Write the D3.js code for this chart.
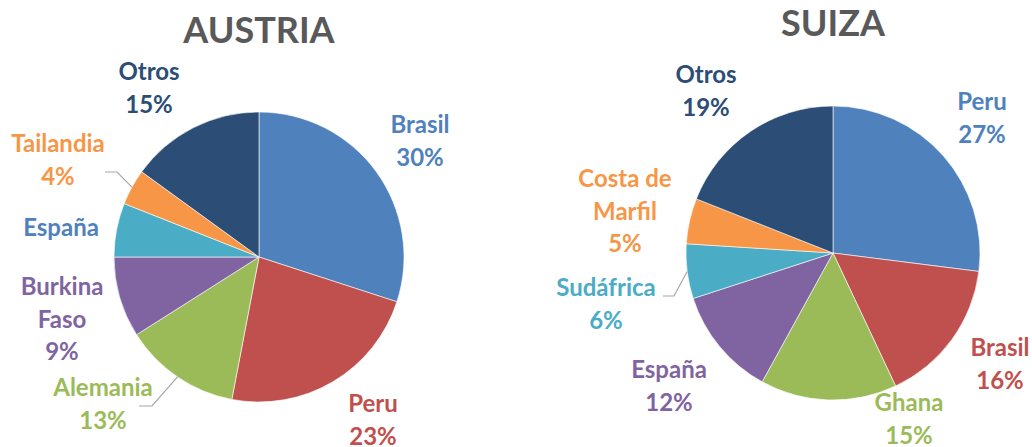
<!DOCTYPE html>
<html>
<head>
<meta charset="utf-8">
<script src="https://cdn.jsdelivr.net/npm/d3@7"></script>
<style>
  body { margin: 0; background: #fff; }
  svg text { font-family: Lato, "Open Sans", sans-serif; font-weight: bold; }
</style>
</head>
<body>
<svg id="chart" width="1032" height="447"></svg>
<script>
// data
var austriaNames = ["Brasil", "Peru", "Alemania", "Burkina Faso", "España", "Tailandia", "Otros"];
var austriaValues = [30, 23, 13, 9, 6, 4, 15];
var suizaNames = ["Peru", "Brasil", "Ghana", "España", "Sudáfrica", "Costa de Marfil", "Otros"];
var suizaValues = [27, 16, 15, 12, 6, 5, 19];
var sliceColors = ["#4F81BD", "#C0504D", "#9BBB59", "#8064A2", "#4BACC6", "#F79646", "#2C4D75"];

// label layout (relative to pie centre)
var austriaLabelPos = [[161, -124], [114, 155], [-156, 139], [-197, 38], [-198, -21], [-201, -105], [-110, -177]];
var austriaLabelLines = [["Brasil"], ["Peru"], ["Alemania"], ["Burkina", "Faso"], ["España"], ["Tailandia"], ["Otros"]];
var austriaShowPct = [true, true, true, true, false, true, true];
var austriaLabelColors = ["#4F81BD", "#C0504D", "#9BBB59", "#8064A2", "#4F81BD", "#F79646", "#2C4D75"];
var austriaLeaders = {2: [[-120, 149], [-107, 149]], 5: [[-154, -85], [-142, -85]]};

var suizaLabelPos = [[149, -143], [167, 103], [76, 158], [-164, 125], [-227, 43], [-208, -66], [-127, -170]];
var suizaLabelLines = [["Peru"], ["Brasil"], ["Ghana"], ["España"], ["Sudáfrica"], ["Costa de", "Marfil"], ["Otros"]];
var suizaShowPct = [true, true, true, true, true, true, true];
var suizaLeaders = {4: [[-170, 43], [-159, 43]]};

var svg = d3.select("#chart");
var lineGap = 32.5;

function drawPie(cfg) {
    var g = svg.append("g").attr("transform", "translate(" + cfg.cx + "," + cfg.cy + ")");
    var data = cfg.values.map(function (v, i) { return { name: cfg.names[i], value: v, i: i }; });
    var pie = d3.pie().sort(null).value(function (d) { return d.value; });
    var arc = d3.arc().innerRadius(0).outerRadius(cfg.r);
    var arcs = pie(data);

    g.selectAll("path.slice").data(arcs).enter().append("path")
        .attr("class", "slice")
        .attr("d", arc)
        .attr("fill", function (d) { return sliceColors[d.data.i]; })
        .attr("stroke", "#fff")
        .attr("stroke-width", 0.6);

    // leader lines
    Object.keys(cfg.leaders).forEach(function (k) {
        var a = arcs[+k];
        var mid = (a.startAngle + a.endAngle) / 2;
        var end = [Math.sin(mid) * cfg.r, -Math.cos(mid) * cfg.r];
        var pts = cfg.leaders[k].concat([end]);
        g.append("path")
            .attr("d", d3.line()(pts))
            .attr("fill", "none")
            .attr("stroke", "#A6A6A6")
            .attr("stroke-width", 1.2);
    });

    var total = d3.sum(cfg.values);
    arcs.forEach(function (a, i) {
        var lines = cfg.lines[i].slice();
        if (cfg.showPct[i]) lines.push(Math.round(a.data.value / total * 100) + "%");
        var t = g.append("text")
            .attr("text-anchor", "middle")
            .attr("font-size", 24)
            .attr("fill", cfg.labelColors[i]);
        lines.forEach(function (s, j) {
            t.append("tspan")
                .attr("x", cfg.labelPos[i][0])
                .attr("y", cfg.labelPos[i][1] + j * lineGap)
                .text(s);
        });
    });

    svg.append("text")
        .attr("x", cfg.cx)
        .attr("y", cfg.titleY)
        .attr("text-anchor", "middle")
        .attr("font-size", 36)
        .attr("fill", "#595959")
        .text(cfg.title);
}

drawPie({
    title: "AUSTRIA", titleY: 43, cx: 259, cy: 257, r: 145,
    names: austriaNames, values: austriaValues,
    labelPos: austriaLabelPos, lines: austriaLabelLines, showPct: austriaShowPct,
    labelColors: austriaLabelColors, leaders: austriaLeaders
});

drawPie({
    title: "SUIZA", titleY: 36, cx: 833, cy: 253, r: 147,
    names: suizaNames, values: suizaValues,
    labelPos: suizaLabelPos, lines: suizaLabelLines, showPct: suizaShowPct,
    labelColors: sliceColors, leaders: suizaLeaders
});
</script>
</body>
</html>
